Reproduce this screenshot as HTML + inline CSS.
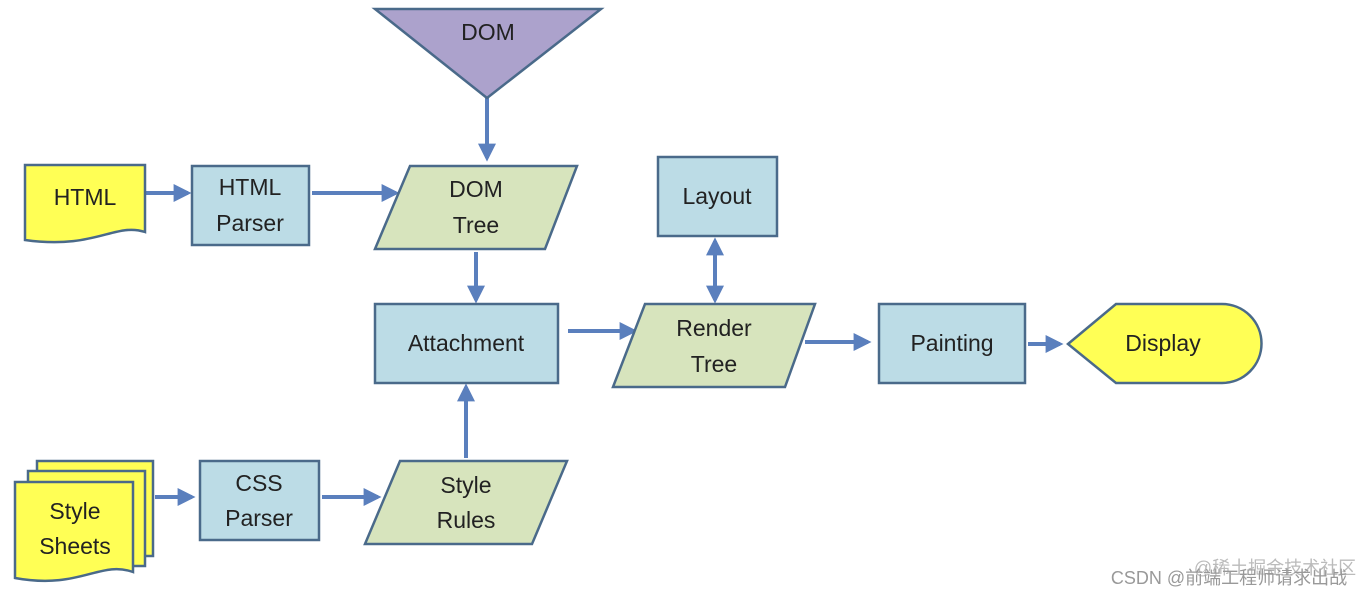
<!DOCTYPE html>
<html><head><meta charset="utf-8"><style>
html,body{margin:0;padding:0;background:#fff;}
svg{display:block;}
text{font-family:"Liberation Sans",sans-serif;font-size:23px;fill:#222;text-anchor:middle;dominant-baseline:middle;}
</style></head><body>
<svg width="1370" height="596" viewBox="0 0 1370 596" xmlns="http://www.w3.org/2000/svg">
<defs>
<marker id="ah" viewBox="0 0 10 10" refX="8" refY="5" markerWidth="4.5" markerHeight="4.5" orient="auto-start-reverse">
<path d="M0,0 L10,5 L0,10 z" fill="#5a7fbd"/></marker>
</defs>
<g stroke="#5a7fbd" stroke-width="4" fill="none" marker-end="url(#ah)">
<line x1="487" y1="98" x2="487" y2="158"/>
<line x1="146" y1="193" x2="188" y2="193"/>
<line x1="312" y1="193" x2="396" y2="193"/>
<line x1="476" y1="252" x2="476" y2="300"/>
<line x1="568" y1="331" x2="634" y2="331"/>
<line x1="715" y1="300" x2="715" y2="241" marker-start="url(#ah)"/>
<line x1="805" y1="342" x2="868" y2="342"/>
<line x1="1028" y1="344" x2="1060" y2="344"/>
<line x1="155" y1="497" x2="192" y2="497"/>
<line x1="322" y1="497" x2="378" y2="497"/>
<line x1="466" y1="458" x2="466" y2="387"/>
</g>
<g stroke="#4a6a8a" stroke-width="2.5">
<polygon points="375,9 601,9 487,98" fill="#aca2cc"/>
<path d="M25,165 L145,165 L145,232 C115,222 95,250 25,240 Z" fill="#ffff55"/>
<rect x="192" y="166" width="117" height="79" fill="#bcdce6"/>
<polygon points="410,166 577,166 545,249 375,249" fill="#d7e4bd"/>
<rect x="375" y="304" width="183" height="79" fill="#bcdce6"/>
<polygon points="645,304 815,304 785,387 613,387" fill="#d7e4bd"/>
<rect x="658" y="157" width="119" height="79" fill="#bcdce6"/>
<rect x="879" y="304" width="146" height="79" fill="#bcdce6"/>
<path d="M1068,344 L1116,304 L1222,304 A39.5,39.5 0 0 1 1222,383 L1116,383 Z" fill="#ffff55"/>
<rect x="37" y="461" width="116" height="95" fill="#ffff55"/>
<rect x="28" y="471" width="117" height="95" fill="#ffff55"/>
<path d="M15,482 L133,482 L133,572 C100,560 80,590 15,578 Z" fill="#ffff55"/>
<rect x="200" y="461" width="119" height="79" fill="#bcdce6"/>
<polygon points="400,461 567,461 532,544 365,544" fill="#d7e4bd"/>
</g>
<text x="488" y="34">DOM</text>
<text x="85" y="199">HTML</text>
<text x="250" y="189">HTML</text><text x="250" y="225">Parser</text>
<text x="476" y="191">DOM</text><text x="476" y="227">Tree</text>
<text x="466" y="345">Attachment</text>
<text x="714" y="330">Render</text><text x="714" y="366">Tree</text>
<text x="717" y="198">Layout</text>
<text x="952" y="345">Painting</text>
<text x="1163" y="345">Display</text>
<text x="75" y="513">Style</text><text x="75" y="548">Sheets</text>
<text x="259" y="485">CSS</text><text x="259" y="520">Parser</text>
<text x="466" y="487">Style</text><text x="466" y="522">Rules</text>
<text x="1275" y="569" style="font-size:18px;fill:#bbb;font-family:'Liberation Sans','Noto Sans CJK SC',sans-serif">@稀土掘金技术社区</text>
<text x="1229" y="579" style="font-size:18px;fill:#999;font-family:'Liberation Sans','Noto Sans CJK SC',sans-serif">CSDN @前端工程师请求出战</text>
</svg>
</body></html>
